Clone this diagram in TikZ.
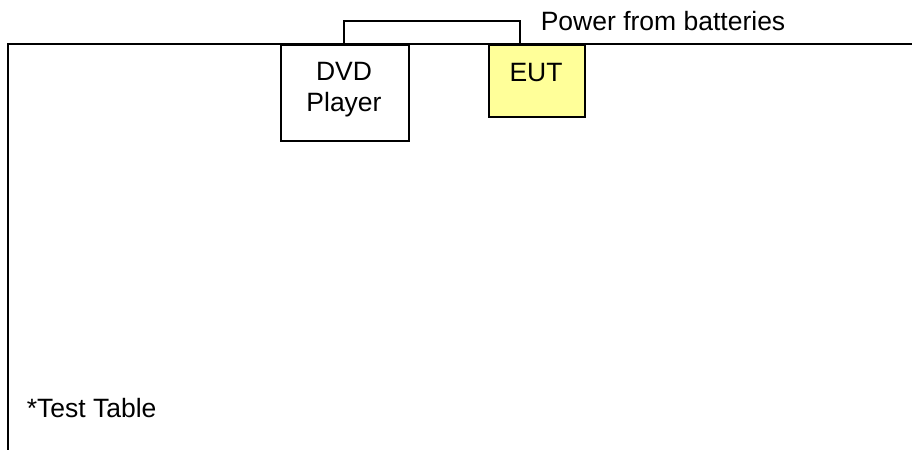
\documentclass[tikz,border=0pt]{standalone}
\usepackage{fontspec}
\setmainfont{Liberation Sans}
\definecolor{eutyellow}{RGB}{255,255,153}
\begin{document}
\begin{tikzpicture}[x=1pt,y=-1pt,
  line width=1.6pt,
  lbl/.style={font=\fontsize{26.5}{31}\selectfont, inner sep=0pt},
  box/.style={draw=black, line width=1.6pt, inner sep=0pt}]
\useasboundingbox (0,0) rectangle (912,450);
% table outline
\coordinate (tl) at (8,44);
\coordinate (tr) at (912,44);
\coordinate (bl) at (8,450);
\draw (tr) -- (tl) -- (bl);
% boxes
\node[box, minimum width=128pt, minimum height=96pt, anchor=north west] (dvd) at (280,44) {};
\node[box, fill=eutyellow, minimum width=96pt, minimum height=72pt, anchor=north west] (eut) at (488,44) {};
\node[lbl, align=center] (dvdt) at (344,90) {DVD\\Player};
\node[lbl] (eutt) at (536,73) {EUT};
% battery cable
\coordinate (c1) at (344,44);
\coordinate (c2) at (520,44);
\draw (c1) -- (344,21) -- (520,21) -- (c2);
\node[lbl, anchor=base west] (pwr) at (540,30) {Power from batteries};
\node[lbl, anchor=base west] (tt) at (26,417) {*Test Table};
\end{tikzpicture}
\end{document}
